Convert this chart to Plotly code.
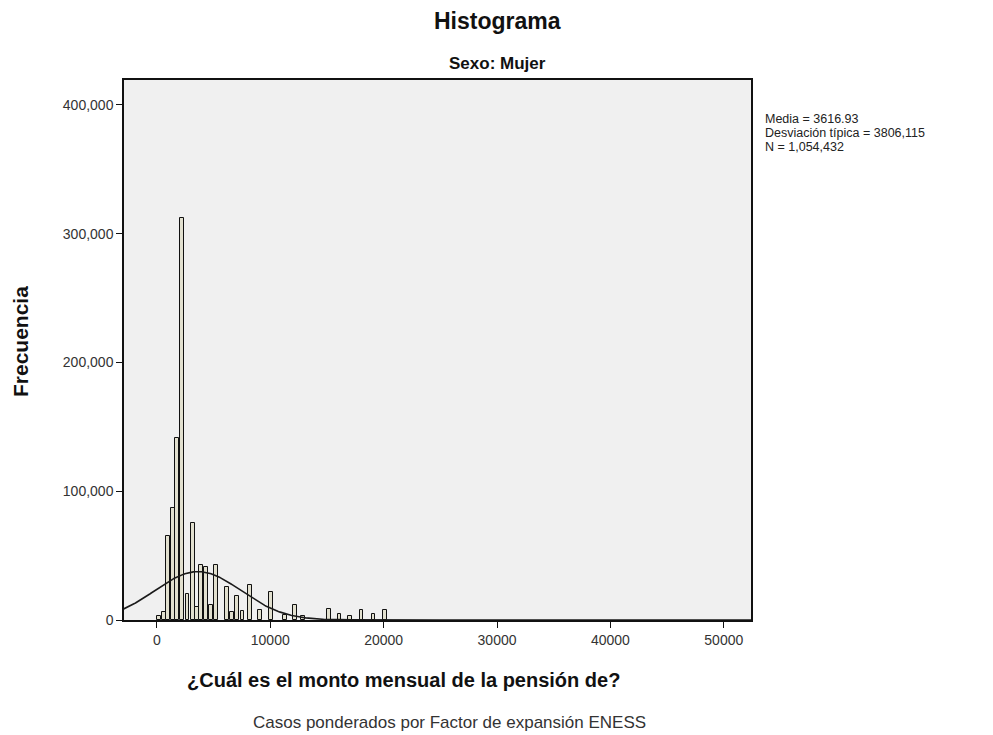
import numpy as np
import plotly.graph_objects as go

# Histogram bins (centre of each non-empty bin, pension amount) and weighted counts
bin_centers = [200, 600, 1000, 1400, 1800, 2200, 2700, 3200, 3550, 3900, 4300, 4800,
               5200, 6200, 6600, 7100, 7550, 8200, 9100, 10100, 11300, 12150, 12900,
               15200, 16100, 17000, 18050, 19100, 20100]
bin_counts = [3000, 6500, 65000, 87000, 141000, 312000, 20000, 75000, 10000, 43000, 41000, 12000,
              43000, 26000, 6000, 19000, 7000, 27000, 7500, 22000, 4000, 12000, 3000,
              8500, 5000, 3000, 8000, 5000, 8000]
bin_width = 340

# Summary statistics shown beside the chart
mean_val = 3616.93
std_val = 3806.115
n_val = 1054432

x_ticks = [0, 10000, 20000, 30000, 40000, 50000]
y_ticks = [0, 100000, 200000, 300000, 400000]
y_tick_text = ["0", "100,000", "200,000", "300,000", "400,000"]

W, H = 993, 735
ML, MR, MT, MB = 124, 242, 80, 115
PW, PH = W - ML - MR, H - MT - MB


def px(x):
    return (x - ML) / PW


def py(y):
    return (H - MB - y) / PH


fig = go.Figure()

fig.add_trace(go.Bar(
    x=bin_centers, y=bin_counts, width=bin_width,
    marker=dict(color="#e2e0cf", line=dict(color="#111111", width=1)),
    hoverinfo="x+y", showlegend=False,
))

# Fitted normal curve scaled to the histogram
xc = np.linspace(-3000, 52500, 600)
yc = n_val * bin_width / (std_val * np.sqrt(2 * np.pi)) * np.exp(-0.5 * ((xc - mean_val) / std_val) ** 2)
fig.add_trace(go.Scatter(x=xc, y=yc, mode="lines",
                         line=dict(color="#1a1a1a", width=1.6),
                         hoverinfo="skip", showlegend=False))

font_fam = "Liberation Sans, Arial, sans-serif"

fig.update_layout(
    width=W, height=H,
    margin=dict(l=ML, r=MR, t=MT, b=MB),
    paper_bgcolor="white",
    plot_bgcolor="#f0f0f0",
    bargap=0,
    font=dict(family=font_fam, color="#222222", size=13),
    xaxis=dict(range=[-2900, 52400], tickvals=x_ticks, ticktext=[str(v) for v in x_ticks],
               ticks="outside", ticklen=6, tickcolor="#111", tickwidth=1,
               showline=True, linecolor="#111", linewidth=1.5, mirror=True,
               showgrid=False, zeroline=False,
               tickfont=dict(size=14, color="#333")),
    yaxis=dict(range=[0, 419400], tickvals=y_ticks, ticktext=y_tick_text,
               ticks="outside", ticklen=6, tickcolor="#111", tickwidth=1,
               showline=True, linecolor="#111", linewidth=1.5, mirror=True,
               showgrid=False, zeroline=False,
               tickfont=dict(size=14, color="#333")),
)

ann = []
ann.append(dict(text="<b>Histograma</b>", x=px(497), y=py(21), xref="paper", yref="paper",
                showarrow=False, font=dict(size=23, color="#111"), xanchor="center", yanchor="middle"))
ann.append(dict(text="<b>Sexo: Mujer</b>", x=px(497), y=py(63), xref="paper", yref="paper",
                showarrow=False, font=dict(size=17, color="#111"), xanchor="center", yanchor="middle"))
ann.append(dict(text="<b>Frecuencia</b>", x=px(20), y=py(342), xref="paper", yref="paper",
                showarrow=False, textangle=-90, font=dict(size=21, color="#111"),
                xanchor="center", yanchor="middle"))
ann.append(dict(text="<b>¿Cuál es el monto mensual de la pensión de?</b>", x=px(403), y=py(680),
                xref="paper", yref="paper", showarrow=False, font=dict(size=20, color="#111"),
                xanchor="center", yanchor="middle"))
ann.append(dict(text="Casos ponderados por Factor de expansión ENESS", x=px(449), y=py(722),
                xref="paper", yref="paper", showarrow=False, font=dict(size=17, color="#333"),
                xanchor="center", yanchor="middle"))

stats_lines = ["Media = 3616.93", "Desviación típica = 3806,115", "N = 1,054,432"]
for i, line in enumerate(stats_lines):
    ann.append(dict(text=line, x=px(763), y=py(119 + i * 14), xref="paper", yref="paper",
                    showarrow=False, font=dict(size=12.5, color="#222"),
                    xanchor="left", yanchor="middle"))

fig.update_layout(annotations=ann)

fig.write_html("out.html")
